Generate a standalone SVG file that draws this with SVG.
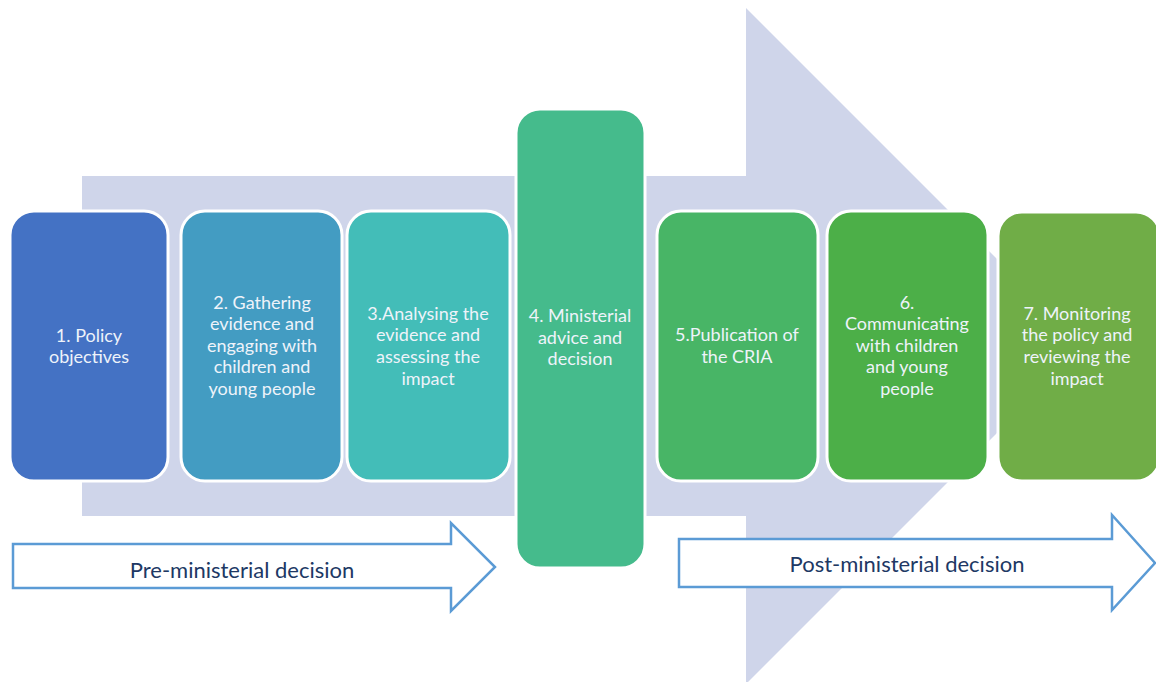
<svg xmlns="http://www.w3.org/2000/svg" width="1156" height="682" viewBox="0 0 1156 682">
<style>
.bg{fill:#CFD5EA}
.box{stroke:#FFFFFF;stroke-width:3}
.t{font-family:Lato,"Open Sans","Liberation Sans",sans-serif;font-size:18px;fill:#EEF3FA;text-anchor:middle}
.ph{fill:#FFFFFF;stroke:#5B9BD5;stroke-width:2.5}
.pt{font-family:Lato,"Open Sans","Liberation Sans",sans-serif;font-size:22px;fill:#203864;text-anchor:middle}
</style>
<rect width="1156" height="682" fill="#FFFFFF"/>
<g id="big-arrow">
<polygon class="bg" points="82,176 746,176 746,8 1084,346 746,684 746,516 82,516"/>
</g>
<g id="node1">
<rect class="box" x="10" y="211" width="158" height="270" rx="24" fill="#4472C4"/>
<text class="t" x="89" y="342">1. Policy</text>
<text class="t" x="89" y="363">objectives</text>
</g>
<g id="node2">
<rect class="box" x="181" y="211" width="161" height="270" rx="24" fill="#439CC2"/>
<text class="t" x="262" y="309">2. Gathering</text>
<text class="t" x="262" y="330">evidence and</text>
<text class="t" x="262" y="352">engaging with</text>
<text class="t" x="262" y="373">children and</text>
<text class="t" x="262" y="395">young people</text>
</g>
<g id="node3">
<rect class="box" x="347" y="211" width="163" height="270" rx="24" fill="#43BDB8"/>
<text class="t" x="428" y="320">3.Analysing the</text>
<text class="t" x="428" y="341">evidence and</text>
<text class="t" x="428" y="363">assessing the</text>
<text class="t" x="428" y="385">impact</text>
</g>
<g id="node4">
<rect class="box" x="516" y="109" width="129" height="459" rx="24" fill="#45BB8C"/>
<text class="t" x="580" y="322">4. Ministerial</text>
<text class="t" x="580" y="344">advice and</text>
<text class="t" x="580" y="365">decision</text>
</g>
<g id="node5">
<rect class="box" x="657" y="211" width="161" height="270" rx="24" fill="#48B566"/>
<text class="t" x="737" y="341">5.Publication of</text>
<text class="t" x="737" y="363">the CRIA</text>
</g>
<g id="node6">
<rect class="box" x="827" y="211" width="161" height="270" rx="24" fill="#4CAF48"/>
<text class="t" x="907" y="309">6.</text>
<text class="t" x="907" y="330">Communicating</text>
<text class="t" x="907" y="352">with children</text>
<text class="t" x="907" y="373">and young</text>
<text class="t" x="907" y="395">people</text>
</g>
<g id="node7">
<rect class="box" x="998" y="212" width="162" height="269" rx="24" fill="#70AD47"/>
<text class="t" x="1077" y="320">7. Monitoring</text>
<text class="t" x="1077" y="341">the policy and</text>
<text class="t" x="1077" y="363">reviewing the</text>
<text class="t" x="1077" y="385">impact</text>
</g>
<g id="connectors">
<g id="pre-arrow">
<polygon class="ph" points="13,544 451,544 451,523 495,567 451,611 451,588 13,588"/>
<text class="pt" x="242" y="578">Pre-ministerial decision</text>
</g>
<g id="post-arrow">
<polygon class="ph" points="679,539 1112,539 1112,515 1155,563 1112,610 1112,587 679,587"/>
<text class="pt" x="907" y="572">Post-ministerial decision</text>
</g>
</g>
</svg>
